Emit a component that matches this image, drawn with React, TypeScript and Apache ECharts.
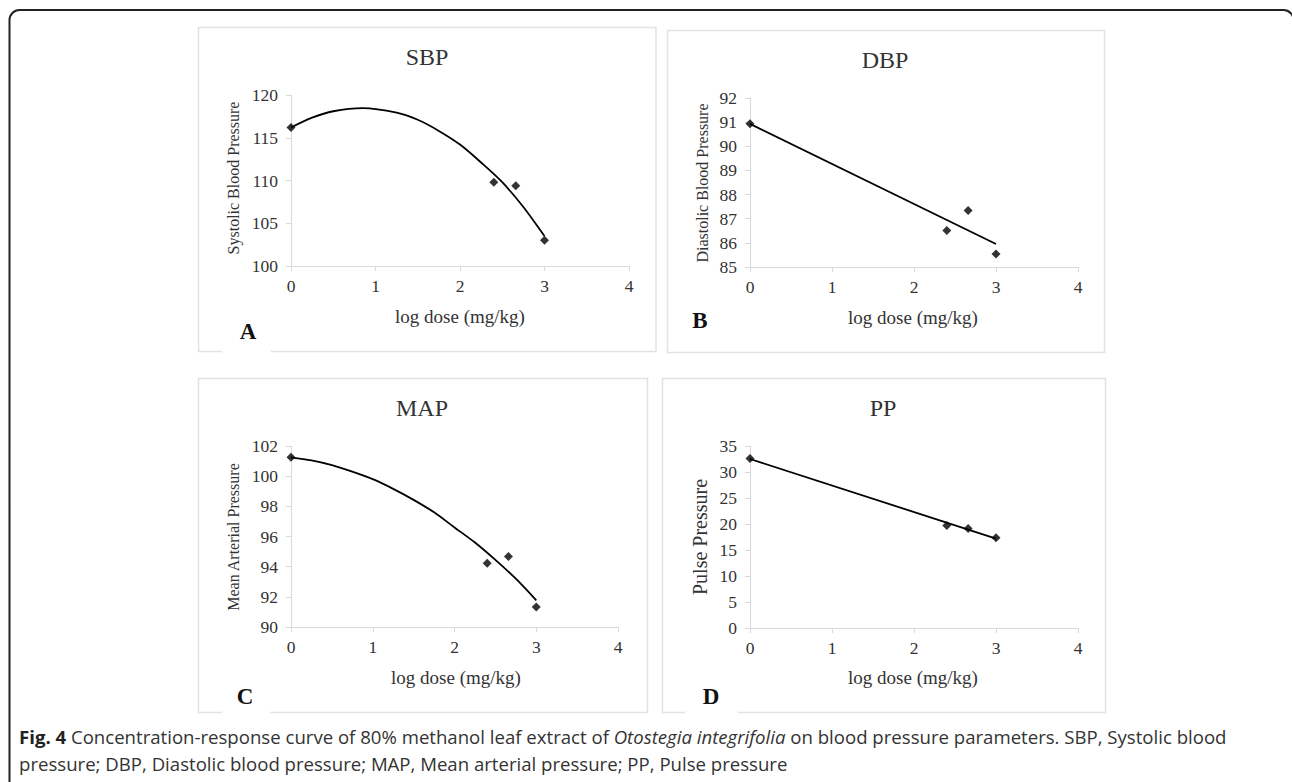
import React, { useEffect, useRef } from 'react';
import * as echarts from 'echarts';

// ---- data ----
const xTickMax = 4;
const doseLog = [0, 2.4, 2.66, 3];
const sbpValues = [116.2, 109.8, 109.4, 103.0];
const dbpValues = [90.93, 86.51, 87.34, 85.54];
const mapValues = [101.25, 94.23, 94.67, 91.33];
const ppValues = [32.6, 19.7, 19.15, 17.35];

const sbpCurveX = [0, 0.25, 0.5, 0.85, 1.25, 1.5, 1.75, 2, 2.25, 2.5, 2.75, 3];
const sbpTrend = [116.2, 117.35, 118.1, 118.46, 117.93, 117.1, 115.8, 114.2, 112.1, 109.8, 106.9, 103.5];
const mapCurveX = [0, 0.25, 0.5, 0.75, 1, 1.25, 1.5, 1.75, 2, 2.25, 2.5, 2.75, 3];
const mapTrend = [101.25, 101.04, 100.73, 100.3, 99.8, 99.16, 98.43, 97.6, 96.6, 95.6, 94.45, 93.2, 91.77];
const lineX = [0, 3];
const dbpTrend = [90.93, 85.95];
const ppTrend = [32.5, 17.2];

const titles = ['SBP', 'DBP', 'MAP', 'PP'];
const yNames = ['Systolic Blood Pressure', 'Diastolic Blood Pressure', 'Mean Arterial Pressure', 'Pulse Pressure'];
const xName = 'log dose (mg/kg)';
const letters = ['A', 'B', 'C', 'D'];
const yRanges = [
  { min: 100, max: 120, interval: 5 },
  { min: 85, max: 92, interval: 1 },
  { min: 90, max: 102, interval: 2 },
  { min: 0, max: 35, interval: 5 },
];
const captionLine1 = '{b|Fig. 4} Concentration-response curve of 80% methanol leaf extract of {i|Otostegia integrifolia} on blood pressure parameters. SBP, Systolic blood';
const captionLine2 = 'pressure; DBP, Diastolic blood pressure; MAP, Mean arterial pressure; PP, Pulse pressure';

// ---- layout ----
const grids = [
  { left: 291, top: 95, width: 338, height: 171 },
  { left: 750, top: 98, width: 328, height: 169 },
  { left: 291, top: 446, width: 327, height: 181 },
  { left: 750, top: 446, width: 328, height: 182 },
];
const boxes = [
  { x: 198.5, y: 27.5, w: 457.5, h: 324, gap: [222, 271] },
  { x: 667.5, y: 30.5, w: 437, h: 322, gap: null },
  { x: 198.5, y: 378.5, w: 449, h: 334, gap: [222, 270] },
  { x: 662.5, y: 378.5, w: 443, h: 334, gap: [685, 738] },
];
const titlePos = [[427, 57], [885, 60], [422, 408], [883, 408]];
const yNamePos = [[233, 178], [702, 183], [233, 537], [700, 537]];
const yNameSize = [16, 16, 16, 20];
const xNamePos = [[460, 316], [913, 317], [456, 677], [913, 677]];
const letterPos = [[248, 331], [700, 320], [245, 696], [711, 696]];

const SERIF = '"Liberation Serif", "Times New Roman", serif';
const AXIS = '#d9d9d9';
const TEXT = '#333';

function zip(xs: number[], ys: number[]) {
  return xs.map((x, i) => [x, ys[i]]);
}

export default function App() {
  const ref = useRef<HTMLDivElement>(null);
  useEffect(() => {
    const chart = echarts.init(ref.current!, null, { renderer: 'svg' });
    const values = [sbpValues, dbpValues, mapValues, ppValues];
    const trends = [zip(sbpCurveX, sbpTrend), zip(lineX, dbpTrend), zip(mapCurveX, mapTrend), zip(lineX, ppTrend)];

    const xAxis = grids.map((_, i) => ({
      type: 'value', gridIndex: i, min: 0, max: xTickMax, interval: 1,
      axisLine: { show: true, onZero: false, lineStyle: { color: AXIS, width: 1 } },
      axisTick: { show: true, length: 5, lineStyle: { color: AXIS } },
      splitLine: { show: false },
      axisLabel: { color: TEXT, fontFamily: SERIF, fontSize: 17.5, margin: 11 },
    }));
    const yAxis = grids.map((_, i) => ({
      type: 'value', gridIndex: i, ...yRanges[i],
      axisLine: { show: true, onZero: false, lineStyle: { color: AXIS, width: 1 } },
      axisTick: { show: true, length: 5, lineStyle: { color: AXIS } },
      splitLine: { show: false },
      axisLabel: { color: TEXT, fontFamily: SERIF, fontSize: 17.5, margin: 13 },
    }));
    const series: any[] = [];
    grids.forEach((_, i) => {
      series.push({
        type: 'line', xAxisIndex: i, yAxisIndex: i, data: trends[i], smooth: 0.3,
        showSymbol: false, lineStyle: { color: '#000', width: 1.8 }, z: 2,
      });
      series.push({
        type: 'scatter', xAxisIndex: i, yAxisIndex: i, data: zip(doseLog, values[i]),
        symbol: 'diamond', symbolSize: 9, itemStyle: { color: '#000' }, z: 3,
      });
    });

    const graphic: any[] = [];
    graphic.push({
      type: 'rect', shape: { x: 9.5, y: 10, width: 1284, height: 820, r: 10 },
      style: { fill: 'none', stroke: '#222', lineWidth: 2 },
    });
    boxes.forEach((b) => {
      graphic.push({ type: 'rect', shape: { x: b.x, y: b.y, width: b.w, height: b.h }, style: { fill: 'none', stroke: '#e2e2e2', lineWidth: 1.5 } });
      if (b.gap) {
        graphic.push({ type: 'line', shape: { x1: b.gap[0], y1: b.y + b.h, x2: b.gap[1], y2: b.y + b.h }, style: { stroke: '#fff', lineWidth: 3 } });
      }
    });
    titles.forEach((t, i) => {
      graphic.push({ type: 'text', x: titlePos[i][0], y: titlePos[i][1], style: { text: t, fill: TEXT, fontFamily: SERIF, fontSize: 24, align: 'center', verticalAlign: 'middle' } });
      graphic.push({ type: 'text', x: yNamePos[i][0], y: yNamePos[i][1], rotation: Math.PI / 2, style: { text: yNames[i], fill: TEXT, fontFamily: SERIF, fontSize: yNameSize[i], align: 'center', verticalAlign: 'middle' } });
      graphic.push({ type: 'text', x: xNamePos[i][0], y: xNamePos[i][1], style: { text: xName, fill: TEXT, fontFamily: SERIF, fontSize: 19, align: 'center', verticalAlign: 'middle' } });
      graphic.push({ type: 'text', x: letterPos[i][0], y: letterPos[i][1], style: { text: letters[i], fill: '#111', fontFamily: SERIF, fontSize: 23, fontWeight: 'bold', align: 'center', verticalAlign: 'middle' } });
    });
    const capFont = '"Open Sans", "Noto Sans", sans-serif';
    const capSize = 18.6;
    const rich = {
      b: { fontFamily: capFont, fontSize: capSize, fontWeight: 'bold', fill: '#222' },
      i: { fontFamily: capFont, fontSize: capSize, fontStyle: 'italic', fill: '#333' },
    };
    graphic.push({ type: 'text', x: 19, y: 736, style: { text: captionLine1, rich, fill: '#333', fontFamily: capFont, fontSize: capSize, align: 'left', verticalAlign: 'middle' } });
    graphic.push({ type: 'text', x: 19, y: 763, style: { text: captionLine2, fill: '#333', fontFamily: capFont, fontSize: capSize, align: 'left', verticalAlign: 'middle' } });

    chart.setOption({
      animation: false,
      backgroundColor: '#fff',
      grid: grids.map((g) => ({ ...g, containLabel: false })),
      xAxis, yAxis, series, graphic,
    });
    return () => chart.dispose();
  }, []);
  return <div ref={ref} style={{ position: 'absolute', left: 0, top: 0, width: 1292, height: 782 }} />;
}
